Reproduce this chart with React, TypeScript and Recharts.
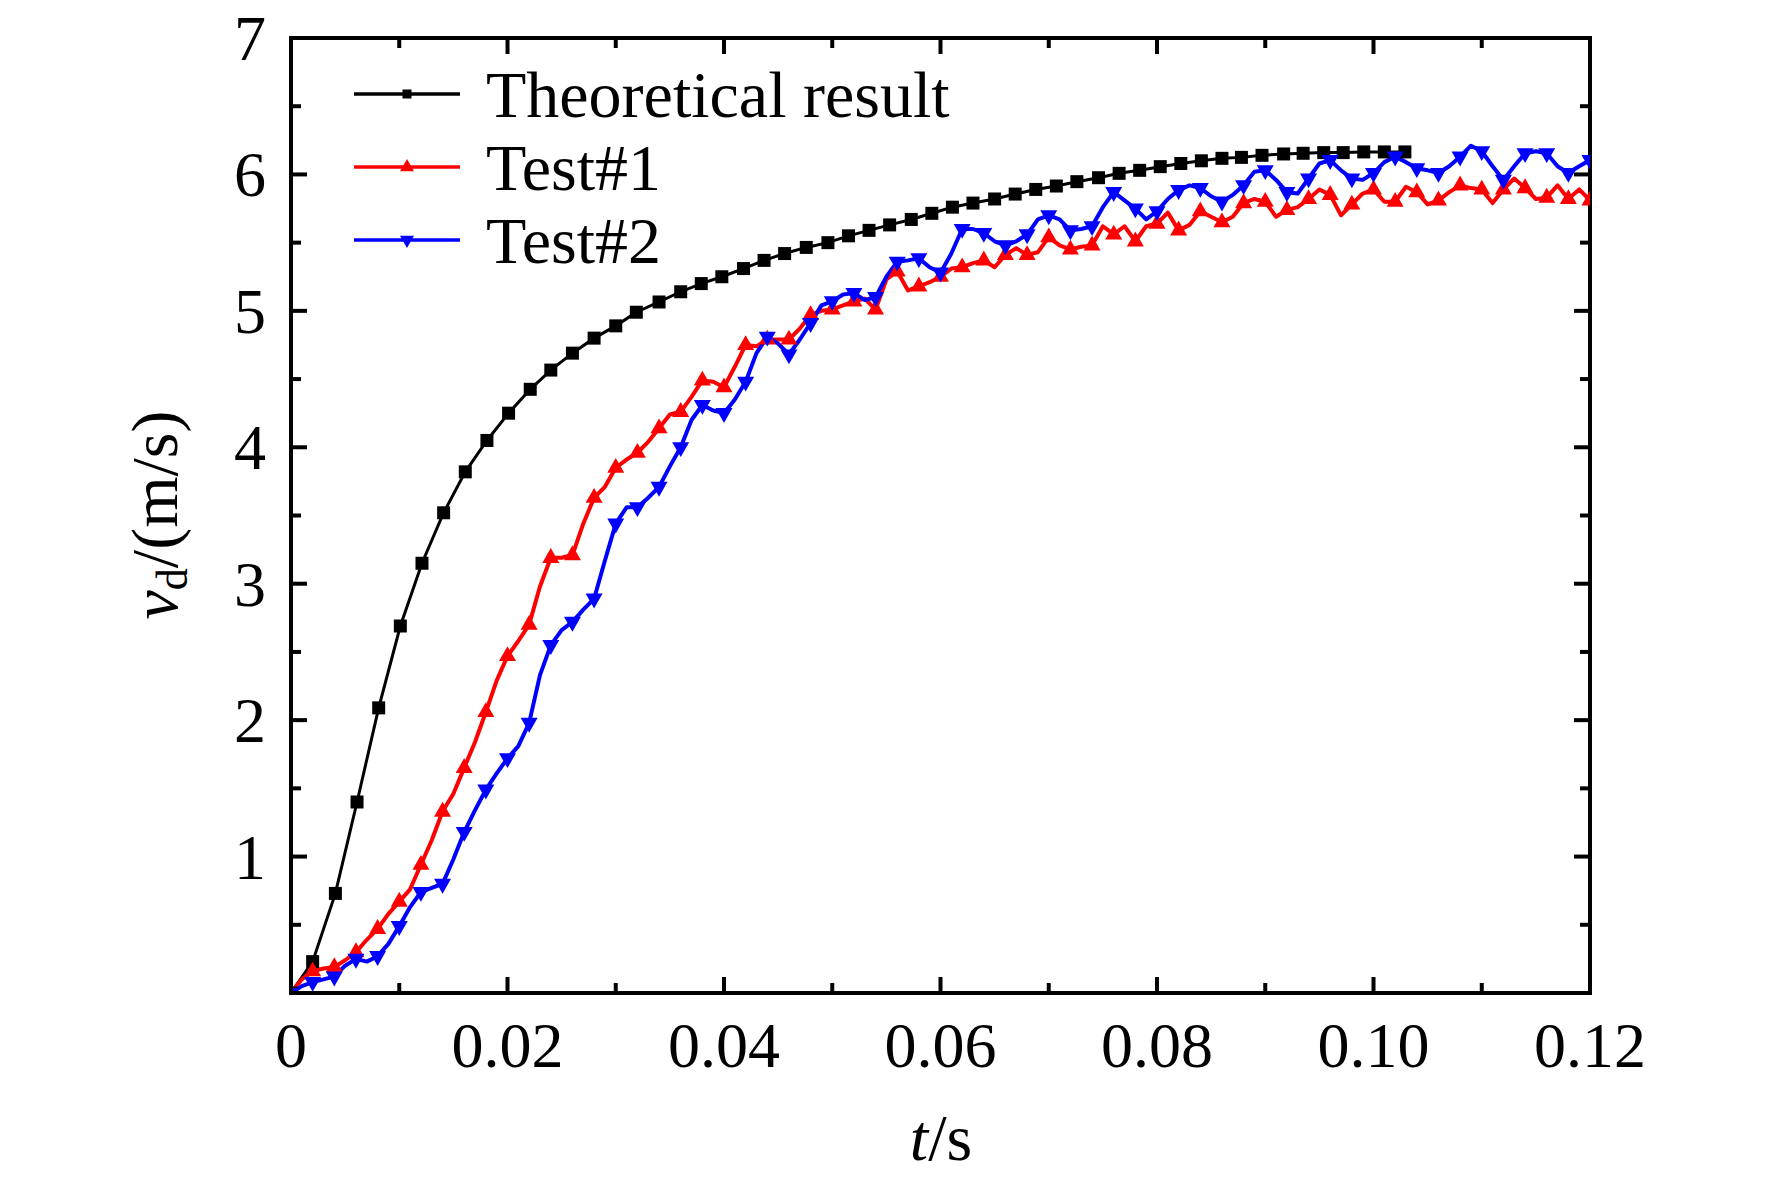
import React from "react";
import { LineChart, Line, XAxis, YAxis } from "recharts";

// ---------- data ----------
const theoryTime = [0, 0.002, 0.0041, 0.0061, 0.0081, 0.0101, 0.0121, 0.0141, 0.0161, 0.0181, 0.0201, 0.0221, 0.024, 0.026, 0.028, 0.03, 0.0319, 0.034, 0.036, 0.0379, 0.0398, 0.0418, 0.0437, 0.0456, 0.0476, 0.0496, 0.0515, 0.0534, 0.0553, 0.0573, 0.0592, 0.0611, 0.063, 0.065, 0.0669, 0.0688, 0.0707, 0.0726, 0.0746, 0.0765, 0.0784, 0.0803, 0.0822, 0.0841, 0.086, 0.0878, 0.0897, 0.0917, 0.0935, 0.0954, 0.0972, 0.0991, 0.101, 0.1029];
const theoryVel = [0, 0.23, 0.73, 1.4, 2.09, 2.69, 3.15, 3.52, 3.82, 4.05, 4.25, 4.425, 4.566, 4.69, 4.8, 4.89, 4.99, 5.065, 5.14, 5.2, 5.25, 5.31, 5.37, 5.42, 5.465, 5.5, 5.55, 5.59, 5.63, 5.67, 5.715, 5.76, 5.79, 5.82, 5.856, 5.89, 5.915, 5.947, 5.976, 6.008, 6.03, 6.057, 6.08, 6.1, 6.118, 6.125, 6.14, 6.15, 6.155, 6.16, 6.16, 6.165, 6.165, 6.165];

const testTime = [
  0, 0.001, 0.002, 0.003, 0.004, 0.005, 0.006, 0.007, 0.008, 0.009,
  0.01, 0.011, 0.012, 0.013, 0.014, 0.015, 0.016, 0.017, 0.018, 0.019,
  0.02, 0.021, 0.022, 0.023, 0.024, 0.025, 0.026, 0.027, 0.028, 0.029,
  0.03, 0.031, 0.032, 0.033, 0.034, 0.035, 0.036, 0.037, 0.038, 0.039,
  0.04, 0.041, 0.042, 0.043, 0.044, 0.045, 0.046, 0.047, 0.048, 0.049,
  0.05, 0.051, 0.052, 0.053, 0.054, 0.055, 0.056, 0.057, 0.058, 0.059,
  0.06, 0.061, 0.062, 0.063, 0.064, 0.065, 0.066, 0.067, 0.068, 0.069,
  0.07, 0.071, 0.072, 0.073, 0.074, 0.075, 0.076, 0.077, 0.078, 0.079,
  0.08, 0.081, 0.082, 0.083, 0.084, 0.085, 0.086, 0.087, 0.088, 0.089,
  0.09, 0.091, 0.092, 0.093, 0.094, 0.095, 0.096, 0.097, 0.098, 0.099,
  0.1, 0.101, 0.102, 0.103, 0.104, 0.105, 0.106, 0.107, 0.108, 0.109,
  0.11, 0.111, 0.112, 0.113, 0.114, 0.115, 0.116, 0.117, 0.118, 0.119,
  0.12,
];

const test1Vel = [
  0, 0.1, 0.16, 0.18, 0.19, 0.24, 0.3, 0.39, 0.47, 0.58,
  0.67, 0.76, 0.94, 1.12, 1.33, 1.46, 1.65, 1.84, 2.06, 2.29,
  2.47, 2.58, 2.7, 2.98, 3.19, 3.19, 3.21, 3.44, 3.63, 3.71,
  3.85, 3.91, 3.96, 4.04, 4.14, 4.24, 4.26, 4.37, 4.49, 4.48,
  4.44, 4.59, 4.75, 4.74, 4.79, 4.79, 4.79, 4.87, 4.97, 5.0,
  5.01, 5.04, 5.07, 5.09, 5.01, 5.23, 5.29, 5.15, 5.18, 5.21,
  5.25, 5.31, 5.32, 5.35, 5.37, 5.32, 5.41, 5.46, 5.41, 5.43,
  5.54, 5.48, 5.45, 5.47, 5.48, 5.62, 5.56, 5.62, 5.51, 5.62,
  5.64, 5.72, 5.59, 5.63, 5.73, 5.69, 5.65, 5.69, 5.79, 5.82,
  5.8, 5.69, 5.74, 5.76, 5.82, 5.89, 5.85, 5.7, 5.78, 5.86,
  5.89, 5.8, 5.8, 5.91, 5.87, 5.78, 5.81, 5.87, 5.92, 5.9,
  5.89, 5.79, 5.89, 5.97, 5.9, 5.82, 5.83, 5.92, 5.82, 5.89,
  5.81,
];

const test2Vel = [
  0, 0.05, 0.08, 0.1, 0.12, 0.2, 0.25, 0.23, 0.27, 0.36,
  0.49, 0.63, 0.74, 0.77, 0.8, 0.98, 1.18, 1.34, 1.49, 1.61,
  1.72, 1.81, 1.98, 2.33, 2.55, 2.66, 2.72, 2.81, 2.89, 3.17,
  3.44, 3.56, 3.56, 3.63, 3.71, 3.86, 4.0, 4.2, 4.31, 4.27,
  4.25, 4.35, 4.48, 4.69, 4.81, 4.76, 4.68, 4.79, 4.91, 5.04,
  5.07, 5.12, 5.13, 5.08, 5.1, 5.25, 5.36, 5.37, 5.385, 5.32,
  5.28, 5.42, 5.6, 5.6, 5.57, 5.51, 5.48, 5.51, 5.56, 5.67,
  5.7, 5.67, 5.59, 5.6, 5.62, 5.76, 5.87, 5.81, 5.75, 5.67,
  5.73, 5.82, 5.885, 5.92, 5.9, 5.84, 5.8, 5.85, 5.92, 6.02,
  6.03, 5.96, 5.87, 5.86, 5.97, 6.08, 6.105, 6.03, 5.97, 5.96,
  6.01, 6.09, 6.13, 6.09, 6.045, 6.03, 6.01, 6.06, 6.13, 6.21,
  6.17, 6.06, 5.96, 6.06, 6.155, 6.17, 6.155, 6.06, 6.01, 6.06,
  6.105,
];

const seriesNames = ["Theoretical result", "Test#1", "Test#2"];
const seriesColors = ["#000000", "#ff0000", "#0000ff"];

const xTicks = [0, 0.01, 0.02, 0.03, 0.04, 0.05, 0.06, 0.07, 0.08, 0.09, 0.1, 0.11, 0.12];
const xTickLabels = ["0", "0.02", "0.04", "0.06", "0.08", "0.10", "0.12"];
const yTicks = [0, 0.5, 1, 1.5, 2, 2.5, 3, 3.5, 4, 4.5, 5, 5.5, 6, 6.5, 7];
const yTickLabels = ["", "1", "2", "3", "4", "5", "6", "7"];

const theoryData = theoryTime.map((t, i) => ({ t, v: theoryVel[i] }));
const test1Data = testTime.map((t, i) => ({ t, v: test1Vel[i] }));
const test2Data = testTime.map((t, i) => ({ t, v: test2Vel[i] }));

// ---------- style ----------
const FONT = "'Liberation Serif', 'Times New Roman', serif";
const FS = 64;
const W = 1772;
const H = 1179;
const MAJ = 16;
const MIN = 10;
const TW = 4;

const isMajorX = (v: number) => Math.round(v * 100) % 2 === 0;
const isMajorY = (v: number) => Math.round(v * 2) % 2 === 0;

const BottomTick = (props: any) => {
  const { x, y, payload } = props;
  const major = isMajorX(payload.value);
  const label = major ? xTickLabels[Math.round(payload.value * 50)] : "";
  return (
    <g>
      <line x1={x} x2={x} y1={y} y2={y - (major ? MAJ : MIN)} stroke="#000" strokeWidth={TW} />
      {major && (
        <text x={x} y={y + 74} textAnchor="middle" fontFamily={FONT} fontSize={FS} fill="#000">
          {label}
        </text>
      )}
    </g>
  );
};

const TopTick = (props: any) => {
  const { x, y, payload } = props;
  const major = isMajorX(payload.value);
  return <line x1={x} x2={x} y1={y} y2={y + (major ? MAJ : MIN)} stroke="#000" strokeWidth={TW} />;
};

const LeftTick = (props: any) => {
  const { x, y, payload } = props;
  const major = isMajorY(payload.value);
  const label = major ? yTickLabels[Math.round(payload.value)] : "";
  return (
    <g>
      <line x1={x} x2={x + (major ? MAJ : MIN)} y1={y} y2={y} stroke="#000" strokeWidth={TW} />
      {major && label && (
        <text x={x - 25} y={y + 22} textAnchor="end" fontFamily={FONT} fontSize={FS} fill="#000">
          {label}
        </text>
      )}
    </g>
  );
};

const RightTick = (props: any) => {
  const { x, y, payload } = props;
  const major = isMajorY(payload.value);
  return <line x1={x} x2={x - (major ? MAJ : MIN)} y1={y} y2={y} stroke="#000" strokeWidth={TW} />;
};

const squarePath = (cx: number, cy: number, s: number) =>
  `M${cx - s},${cy - s}L${cx + s},${cy - s}L${cx + s},${cy + s}L${cx - s},${cy + s}Z`;
const upTriPath = (cx: number, cy: number, s: number) =>
  `M${cx},${cy - s * 1.15}L${cx + s},${cy + s * 0.6}L${cx - s},${cy + s * 0.6}Z`;
const downTriPath = (cx: number, cy: number, s: number) =>
  `M${cx},${cy + s * 1.15}L${cx + s},${cy - s * 0.6}L${cx - s},${cy - s * 0.6}Z`;

const SquareDot = (p: any) => (
  <path key={`sq-${p.index}`} d={squarePath(p.cx, p.cy, 6.5)} fill={seriesColors[0]} />
);
const UpDot = (p: any) =>
  p.index % 2 === 0 ? (
    <path key={`up-${p.index}`} d={upTriPath(p.cx, p.cy, 8.5)} fill={seriesColors[1]} />
  ) : (
    <g key={`up-${p.index}`} />
  );
const DownDot = (p: any) =>
  p.index % 2 === 0 ? (
    <path key={`dn-${p.index}`} d={downTriPath(p.cx, p.cy, 8.5)} fill={seriesColors[2]} />
  ) : (
    <g key={`dn-${p.index}`} />
  );

const axisLineStyle = { stroke: "#000", strokeWidth: TW, strokeLinecap: "square" as const };

const Overlay = () => {
  const lx0 = 354;
  const lx1 = 460;
  const tx = 486;
  const rows = [94, 167, 240];
  const markers = [
    (cx: number, cy: number) => squarePath(cx, cy, 4.5),
    (cx: number, cy: number) => upTriPath(cx, cy, 7),
    (cx: number, cy: number) => downTriPath(cx, cy, 7),
  ];
  return (
    <svg
      width={W}
      height={H}
      style={{ position: "absolute", left: 0, top: 0, pointerEvents: "none" }}
    >
      {seriesNames.map((name, i) => (
        <g key={name}>
          <line x1={lx0} x2={lx1} y1={rows[i]} y2={rows[i]} stroke={seriesColors[i]} strokeWidth={3.5} />
          <path d={markers[i]((lx0 + lx1) / 2, rows[i])} fill={seriesColors[i]} />
          <text x={tx} y={rows[i] + 23} fontFamily={FONT} fontSize={66} fill="#000">
            {name}
          </text>
        </g>
      ))}
      <text x={941} y={1160} textAnchor="middle" fontFamily={FONT} fontSize={66} fill="#000">
        <tspan fontStyle="italic">t</tspan>
        <tspan>/s</tspan>
      </text>
      <text
        x={177}
        y={515}
        textAnchor="middle"
        fontFamily={FONT}
        fontSize={66}
        fill="#000"
        transform="rotate(-90 177 515)"
      >
        <tspan fontStyle="italic">v</tspan>
        <tspan fontSize={44} dy={10}>d</tspan>
        <tspan dy={-10}>/(m/s)</tspan>
      </text>
    </svg>
  );
};

export default function App() {
  return (
    <div style={{ position: "relative", width: W, height: H, margin: -8, background: "#fff" }}>
      <LineChart
        width={W}
        height={H}
        margin={{ top: 37, right: 181, bottom: 86, left: 191 }}
      >
        <XAxis
          xAxisId={0}
          type="number"
          dataKey="t"
          domain={[0, 0.12]}
          ticks={xTicks}
          interval={0}
          allowDataOverflow
          height={100}
          tickSize={0}
          tickMargin={0}
          tickLine={false}
          axisLine={axisLineStyle}
          tick={<BottomTick />}
        />
        <XAxis
          xAxisId="top"
          orientation="top"
          type="number"
          dataKey="t"
          domain={[0, 0.12]}
          ticks={xTicks}
          interval={0}
          allowDataOverflow
          height={1}
          tickSize={0}
          tickMargin={0}
          tickLine={false}
          axisLine={axisLineStyle}
          tick={<TopTick />}
        />
        <YAxis
          yAxisId={0}
          type="number"
          domain={[0, 7]}
          ticks={yTicks}
          interval={0}
          allowDataOverflow
          width={100}
          tickSize={0}
          tickMargin={0}
          tickLine={false}
          axisLine={axisLineStyle}
          tick={<LeftTick />}
        />
        <YAxis
          yAxisId="right"
          orientation="right"
          type="number"
          domain={[0, 7]}
          ticks={yTicks}
          interval={0}
          allowDataOverflow
          width={1}
          tickSize={0}
          tickMargin={0}
          tickLine={false}
          axisLine={axisLineStyle}
          tick={<RightTick />}
        />
        <Line
          data={theoryData}
          dataKey="v"
          xAxisId={0}
          yAxisId={0}
          type="linear"
          stroke={seriesColors[0]}
          strokeWidth={3}
          dot={SquareDot}
          activeDot={false}
          isAnimationActive={false}
          name={seriesNames[0]}
        />
        <Line
          data={test1Data}
          dataKey="v"
          xAxisId={0}
          yAxisId={0}
          type="linear"
          stroke={seriesColors[1]}
          strokeWidth={4}
          strokeLinejoin="round"
          dot={UpDot}
          activeDot={false}
          isAnimationActive={false}
          name={seriesNames[1]}
        />
        <Line
          data={test2Data}
          dataKey="v"
          xAxisId={0}
          yAxisId={0}
          type="linear"
          stroke={seriesColors[2]}
          strokeWidth={4}
          strokeLinejoin="round"
          dot={DownDot}
          activeDot={false}
          isAnimationActive={false}
          name={seriesNames[2]}
        />
        <Line
          data={theoryData}
          dataKey="v"
          xAxisId="top"
          yAxisId="right"
          stroke="none"
          dot={false}
          activeDot={false}
          isAnimationActive={false}
          legendType="none"
        />
      </LineChart>
      <Overlay />
    </div>
  );
}
